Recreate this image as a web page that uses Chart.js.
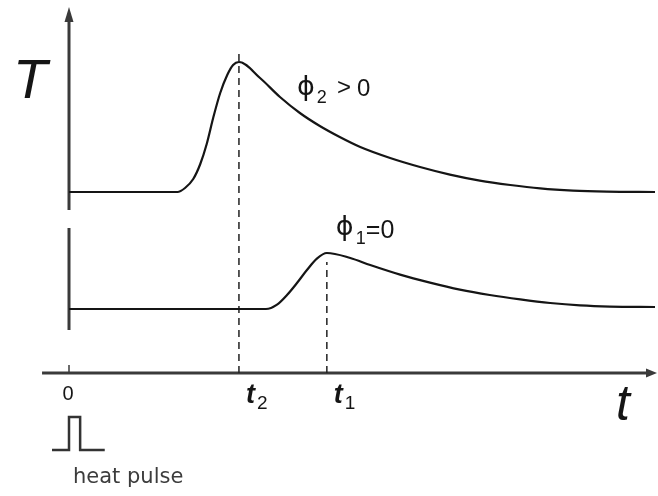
<!DOCTYPE html>
<html>
<head>
<meta charset="utf-8">
<title>Heat pulse response</title>
<script src="https://cdn.jsdelivr.net/npm/chart.js@4.4.1/dist/chart.umd.min.js"></script>
<style>
  html, body { margin: 0; padding: 0; background: #fff; }
  #plot { display: block; }
</style>
</head>
<body>
<canvas id="plot" width="658" height="496"></canvas>
<script>
// time axis (arbitrary units) and temperature (arbitrary units)
const upperTime = [0, 1.85, 1.98, 2.12, 2.24, 2.35, 2.46, 2.58, 2.70, 2.80, 2.9, 3.26, 3.60, 3.94, 4.28, 4.62, 4.97, 5.48, 5.99, 6.50, 7.01, 7.53, 8.04, 8.60, 9.18, 10];
const upperTemp = [9.05, 9.05, 9.25, 9.7, 10.45, 11.45, 12.75, 14.0, 14.9, 15.4, 15.55, 14.75, 13.8, 13.0, 12.35, 11.8, 11.3, 10.75, 10.3, 9.92, 9.62, 9.4, 9.23, 9.12, 9.07, 9.05];

const lowerTime = [0, 3.36, 3.55, 3.72, 3.89, 4.06, 4.23, 4.4, 4.80, 5.14, 5.65, 6.16, 6.67, 7.18, 7.70, 8.21, 8.72, 9.23, 10];
const lowerTemp = [3.2, 3.2, 3.42, 3.9, 4.5, 5.15, 5.72, 6.0, 5.75, 5.4, 4.92, 4.52, 4.17, 3.9, 3.68, 3.5, 3.38, 3.32, 3.3];

// arrival times of the two peaks
const t2 = 2.9;
const t1 = 4.4;
const markTimes = [0, t2, t1];
const markLabels = [['0', ''], ['t', '2'], ['t', '1']];
const dashTops = [16.05, 5.55];

// heat pulse glyph under the origin
const pulseTime = [-0.29, 0, 0, 0.19, 0.19, 0.61];
const pulseLevel = [-3.85, -3.85, -2.2, -2.2, -3.85, -3.85];

// broken vertical axis: [bottom, top] of each piece
const yAxisPieces = [[8.15, 18.3], [2.15, 7.25]];
const xAxisStart = -0.46;

const toPoints = (xs, ys) => xs.map((x, i) => ({ x: x, y: ys[i] }));

const ink = '#151515';
const axisInk = '#3a3a3a';
const PHI = '\u03d5';

function drawSub(ctx, main, sub, x, y, mainFont, subFont, gap, drop) {
  ctx.font = mainFont;
  ctx.fillText(main, x, y);
  const w = ctx.measureText(main).width;
  if (sub) {
    ctx.font = subFont;
    ctx.fillText(sub, x + w + gap, y + drop);
  }
}

const sketchAxes = {
  id: 'sketchAxes',
  beforeDatasetsDraw(chart) {
    const ctx = chart.ctx;
    const xs = chart.scales.x, ys = chart.scales.y;
    const x0 = xs.getPixelForValue(0);
    const y0 = ys.getPixelForValue(0);
    ctx.save();
    ctx.strokeStyle = axisInk;
    ctx.fillStyle = axisInk;
    ctx.lineWidth = 3;

    // vertical axis pieces
    yAxisPieces.forEach((p, i) => {
      const top = ys.getPixelForValue(p[1]);
      ctx.beginPath();
      ctx.moveTo(x0, ys.getPixelForValue(p[0]));
      ctx.lineTo(x0, i === 0 ? top + 12 : top);
      ctx.stroke();
      if (i === 0) {
        ctx.beginPath();
        ctx.moveTo(x0, top);
        ctx.lineTo(x0 - 4.5, top + 15);
        ctx.lineTo(x0 + 4.5, top + 15);
        ctx.closePath();
        ctx.fill();
      }
    });

    // time axis with arrow
    const right = chart.width - 1;
    ctx.beginPath();
    ctx.moveTo(xs.getPixelForValue(xAxisStart), y0);
    ctx.lineTo(right - 8, y0);
    ctx.stroke();
    ctx.beginPath();
    ctx.moveTo(right, y0);
    ctx.lineTo(right - 11, y0 - 4.5);
    ctx.lineTo(right - 11, y0 + 4.5);
    ctx.closePath();
    ctx.fill();

    // tick at the origin
    ctx.lineWidth = 1.5;
    ctx.beginPath();
    ctx.moveTo(x0, y0 - 8);
    ctx.lineTo(x0, y0);
    ctx.stroke();
    ctx.restore();
  },
  afterDatasetsDraw(chart) {
    const ctx = chart.ctx;
    const xs = chart.scales.x, ys = chart.scales.y;
    const y0 = ys.getPixelForValue(0);
    ctx.save();
    ctx.fillStyle = ink;
    ctx.textBaseline = 'alphabetic';

    // axis titles
    ctx.font = 'italic 56px "Liberation Sans", Arial, sans-serif';
    ctx.fillText('T', 13, 98);
    ctx.font = 'italic 50px "Liberation Sans", Arial, sans-serif';
    ctx.fillText('t', 616, 420);

    // time marks under the axis
    markTimes.forEach((t, i) => {
      const px = xs.getPixelForValue(t);
      const lab = markLabels[i];
      if (!lab[1]) {
        ctx.font = '20px "Liberation Sans", Arial, sans-serif';
        ctx.textAlign = 'center';
        ctx.fillText(lab[0], px - 1, y0 + 27);
        ctx.textAlign = 'left';
      } else {
        drawSub(ctx, lab[0], lab[1], px + 7, y0 + 30,
          'italic bold 27px "Liberation Sans", Arial, sans-serif',
          '19px "Liberation Sans", Arial, sans-serif', 2, 6);
      }
    });

    // curve labels
    const p2x = xs.getPixelForValue(t2), p2y = ys.getPixelForValue(15.55);
    drawSub(ctx, PHI, '2', p2x + 58, p2y + 33,
      '27px "DejaVu Sans", sans-serif', '18px "Liberation Sans", Arial, sans-serif', 2, 8);
    ctx.font = '24px "Liberation Sans", Arial, sans-serif';
    ctx.fillText('>', p2x + 98, p2y + 33);
    ctx.fillText('0', p2x + 118, p2y + 34);

    const p1x = xs.getPixelForValue(t1), p1y = ys.getPixelForValue(6.0);
    drawSub(ctx, PHI, '1', p1x + 9, p1y - 18,
      '27px "DejaVu Sans", sans-serif', '18px "Liberation Sans", Arial, sans-serif', 2, 9);
    ctx.font = '25px "Liberation Sans", Arial, sans-serif';
    ctx.fillText('=0', p1x + 39, p1y - 15);

    // pulse caption
    ctx.fillStyle = '#3c3c3c';
    ctx.font = '21px "DejaVu Sans", sans-serif';
    ctx.fillText('heat pulse', 73, 483);
    ctx.restore();
  }
};

document.addEventListener('DOMContentLoaded', function () {
  const ctx = document.getElementById('plot').getContext('2d');
  new Chart(ctx, {
    type: 'line',
    data: {
      datasets: [
        {
          label: PHI + '2 > 0',
          data: toPoints(upperTime, upperTemp),
          borderColor: ink,
          borderWidth: 2.2,
          cubicInterpolationMode: 'monotone'
        },
        {
          label: PHI + '1 = 0',
          data: toPoints(lowerTime, lowerTemp),
          borderColor: ink,
          borderWidth: 2.2,
          cubicInterpolationMode: 'monotone'
        },
        {
          label: 't2',
          data: toPoints([t2, t2], [0, dashTops[0]]),
          borderColor: '#222',
          borderWidth: 1.5,
          borderDash: [7, 5]
        },
        {
          label: 't1',
          data: toPoints([t1, t1], [0, dashTops[1]]),
          borderColor: '#222',
          borderWidth: 1.5,
          borderDash: [7, 5]
        },
        {
          label: 'heat pulse',
          data: toPoints(pulseTime, pulseLevel),
          borderColor: '#333',
          borderWidth: 2.5,
          tension: 0
        }
      ]
    },
    options: {
      responsive: false,
      animation: false,
      events: [],
      layout: { padding: 0 },
      elements: { point: { radius: 0 } },
      plugins: {
        legend: { display: false },
        tooltip: { enabled: false }
      },
      scales: {
        x: { type: 'linear', min: -1.1775, max: 10.051, display: false },
        y: { type: 'linear', min: -6.15, max: 18.65, display: false }
      }
    },
    plugins: [sketchAxes]
  });
});
</script>
</body>
</html>
